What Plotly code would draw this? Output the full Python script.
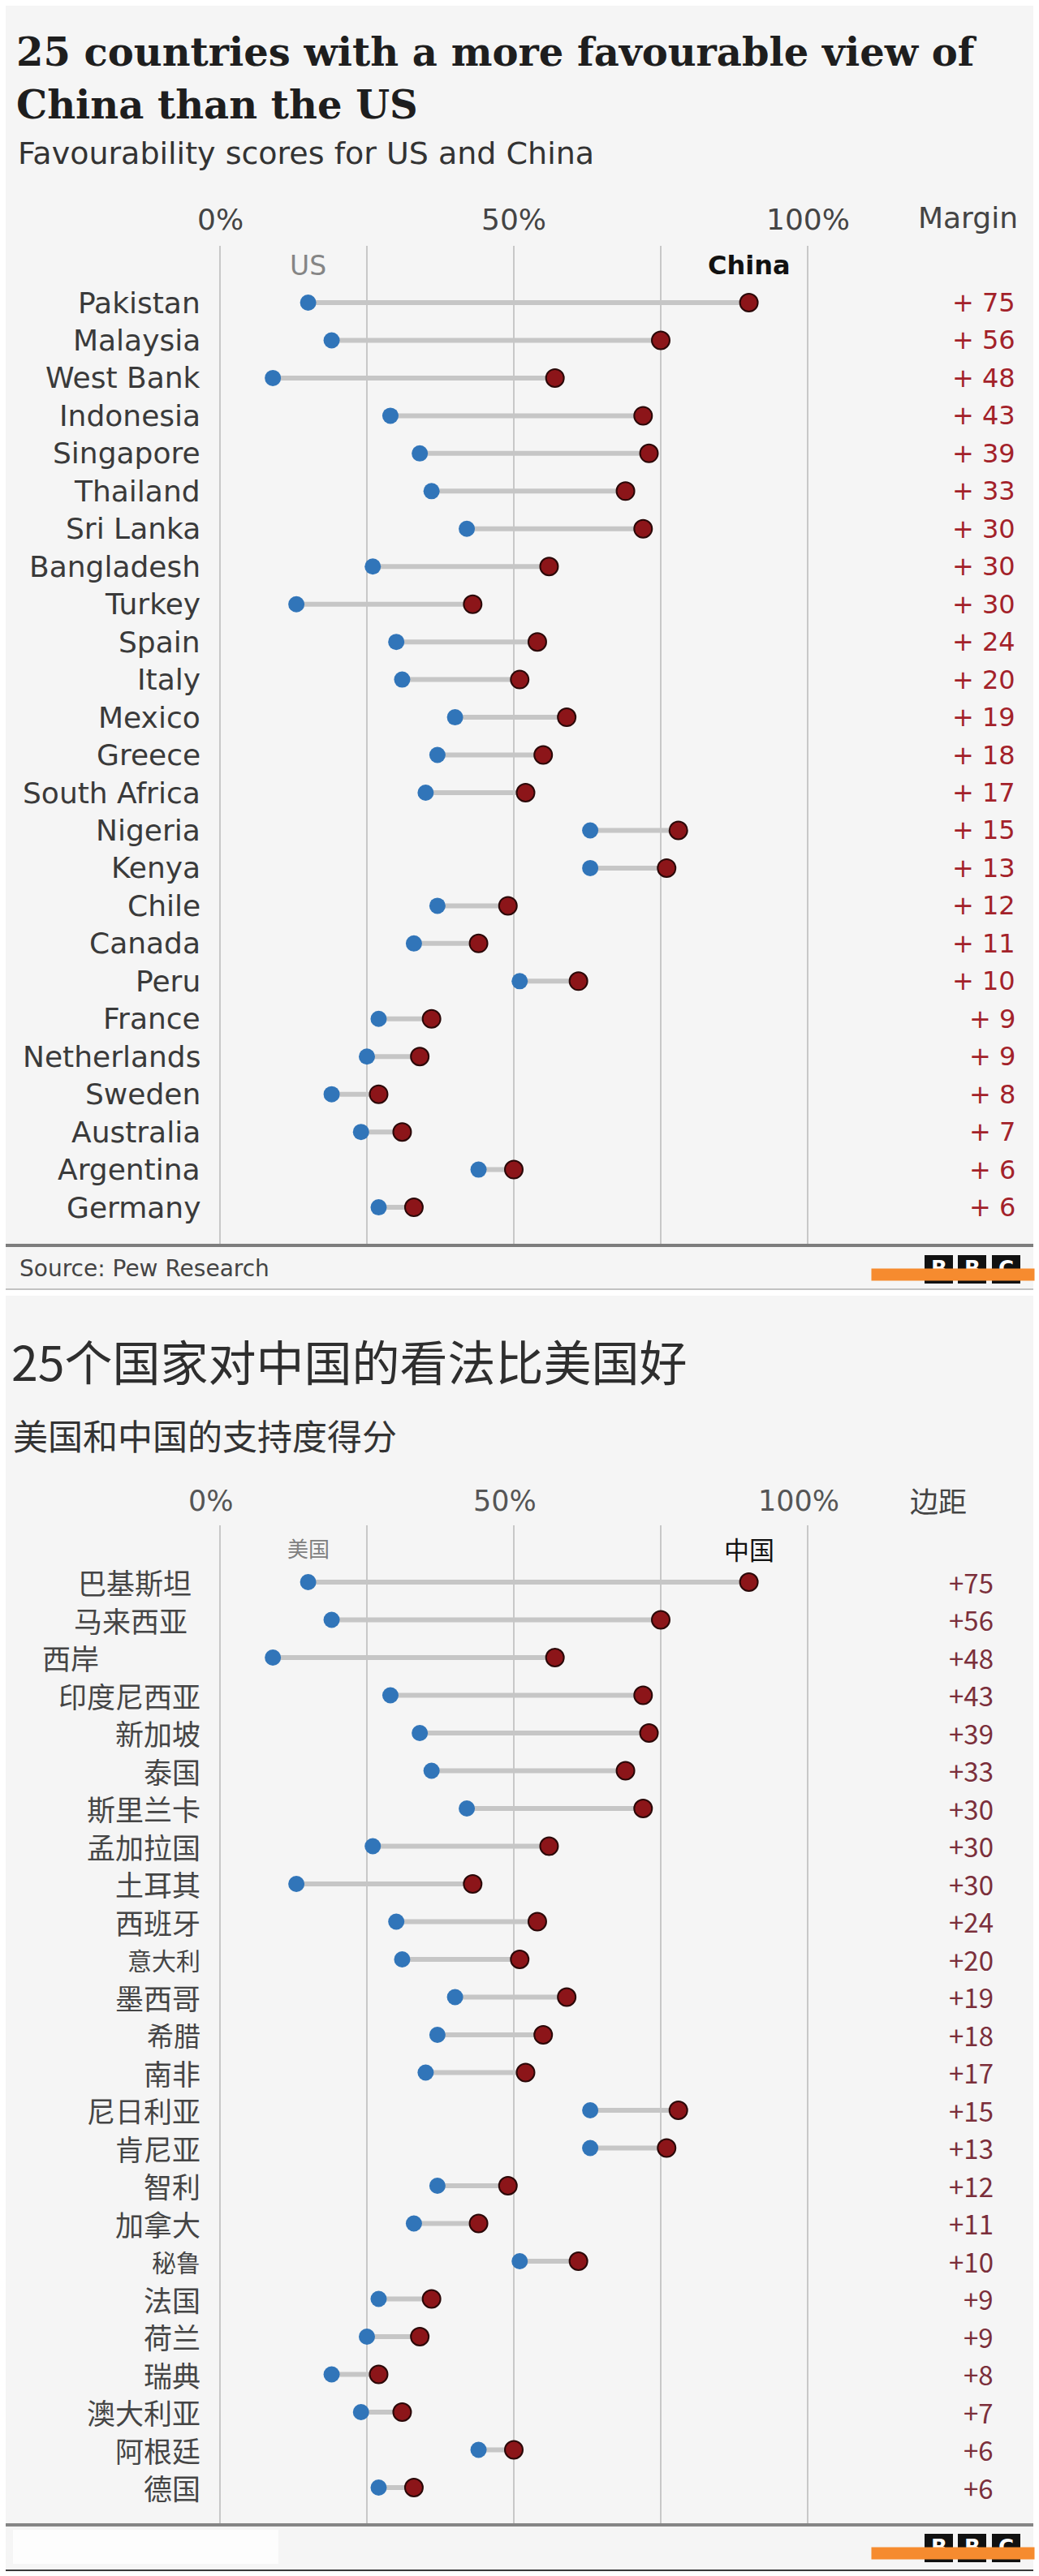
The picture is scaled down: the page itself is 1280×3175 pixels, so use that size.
import plotly.graph_objects as go

W, H = 1280, 3175

# ---------------- data ----------------
countries_en = ["Pakistan", "Malaysia", "West Bank", "Indonesia", "Singapore", "Thailand",
                "Sri Lanka", "Bangladesh", "Turkey", "Spain", "Italy", "Mexico", "Greece",
                "South Africa", "Nigeria", "Kenya", "Chile", "Canada", "Peru", "France",
                "Netherlands", "Sweden", "Australia", "Argentina", "Germany"]
countries_zh = ["巴基斯坦", "马来西亚", "西岸", "印度尼西亚", "新加坡", "泰国", "斯里兰卡",
                "孟加拉国", "土耳其", "西班牙", "意大利", "墨西哥", "希腊", "南非", "尼日利亚",
                "肯尼亚", "智利", "加拿大", "秘鲁", "法国", "荷兰", "瑞典", "澳大利亚", "阿根廷", "德国"]
us_scores = [15, 19, 9, 29, 34, 36, 42, 26, 13, 30, 31, 40, 37, 35, 63, 63, 37, 33, 51, 27, 25, 19, 24, 44, 27]
china_scores = [90, 75, 57, 72, 73, 69, 72, 56, 43, 54, 51, 59, 55, 52, 78, 76, 49, 44, 61, 36, 34, 27, 31, 50, 33]
margins = [75, 56, 48, 43, 39, 33, 30, 30, 30, 24, 20, 19, 18, 17, 15, 13, 12, 11, 10, 9, 9, 8, 7, 6, 6]
grid_vals = [0, 25, 50, 75, 100]
axis_label_vals = [0, 50, 100]
axis_labels = ["0%", "50%", "100%"]


def px(x):
    return x / W


def py(y):
    return 1 - y / H


US_BLUE = "#3175b9"
CN_RED = "#8c1519"
CN_EDGE = "#2a0808"
LINE_GREY = "#c6c6c6"

fig = go.Figure()


def add_panel(names, xa, ya):
    lx, ly = [], []
    for n, u, c in zip(names, us_scores, china_scores):
        lx += [u, c, None]
        ly += [n, n, None]
    fig.add_trace(go.Scatter(x=lx, y=ly, mode="lines", line=dict(color=LINE_GREY, width=6),
                             xaxis=xa, yaxis=ya, hoverinfo="skip", showlegend=False))
    fig.add_trace(go.Scatter(x=us_scores, y=names, mode="markers",
                             marker=dict(color=US_BLUE, size=20, line=dict(width=0)),
                             xaxis=xa, yaxis=ya, cliponaxis=False, showlegend=False))
    fig.add_trace(go.Scatter(x=china_scores, y=names, mode="markers",
                             marker=dict(color=CN_RED, size=22, line=dict(color=CN_EDGE, width=2)),
                             xaxis=xa, yaxis=ya, cliponaxis=False, showlegend=False))


add_panel(countries_en, "x", "y")
add_panel(countries_zh, "x2", "y2")

xdom = [px(271 - 14.48), px(995 + 14.48)]
xcommon = dict(domain=xdom, range=[-2, 102], tickvals=grid_vals, showticklabels=False,
               showgrid=True, gridcolor="#c8c8c8", gridwidth=1.5, zeroline=False,
               showline=False, fixedrange=True)

fig.update_layout(
    width=W, height=H,
    margin=dict(l=0, r=0, t=0, b=0),
    paper_bgcolor="#ffffff",
    plot_bgcolor="rgba(0,0,0,0)",
    xaxis=dict(**xcommon, anchor="y"),
    yaxis=dict(domain=[py(1535), py(303)], range=[25.01, -1.507], type="category",
               categoryorder="array", categoryarray=countries_en, showticklabels=False,
               showgrid=False, zeroline=False, anchor="x", fixedrange=True),
    xaxis2=dict(**xcommon, anchor="y2"),
    yaxis2=dict(domain=[py(3112), py(1880)], range=[24.99, -1.505], type="category",
                categoryorder="array", categoryarray=countries_zh, showticklabels=False,
                showgrid=False, zeroline=False, anchor="x2", fixedrange=True),
)

shapes = []
# panel backgrounds
shapes.append(dict(type="rect", xref="paper", yref="paper", x0=px(7), x1=px(1273), y0=py(1589), y1=py(7),
                   fillcolor="#f5f5f5", line=dict(width=0), layer="below"))
shapes.append(dict(type="rect", xref="paper", yref="paper", x0=px(7), x1=px(1273), y0=py(3168), y1=py(1597),
                   fillcolor="#f5f5f5", line=dict(width=0), layer="below"))
# rules
shapes.append(dict(type="line", xref="paper", yref="paper", x0=px(7), x1=px(1273), y0=py(1535), y1=py(1535),
                   line=dict(color="#7d7d7d", width=4)))
shapes.append(dict(type="line", xref="paper", yref="paper", x0=px(7), x1=px(1273), y0=py(1589), y1=py(1589),
                   line=dict(color="#c2c2c2", width=2)))
shapes.append(dict(type="line", xref="paper", yref="paper", x0=px(7), x1=px(1273), y0=py(3112), y1=py(3112),
                   line=dict(color="#858585", width=4)))
shapes.append(dict(type="line", xref="paper", yref="paper", x0=px(7), x1=px(1273), y0=py(3168), y1=py(3168),
                   line=dict(color="#3a3a3a", width=2)))
# blanked source box in lower panel
shapes.append(dict(type="rect", xref="paper", yref="paper", x0=px(16), x1=px(343), y0=py(3160), y1=py(3118),
                   fillcolor="#fdfdfd", line=dict(width=0)))
# BBC logo blocks
logo_tops = [1547, 3123]
block_x = [1139, 1180, 1222]
for top in logo_tops:
    for bx in block_x:
        shapes.append(dict(type="rect", xref="paper", yref="paper", x0=px(bx), x1=px(bx + 35),
                           y0=py(top + 35), y1=py(top), fillcolor="#111111", line=dict(width=0)))
fig.update_layout(shapes=shapes)

ann = []
SANS = "DejaVu Sans"
CJK = "Noto Sans CJK SC"


def text(x, y, s, size, color, family, xanchor="left", yanchor="middle", xref="paper", yref="paper",
         weight="normal", xshift=0):
    ann.append(dict(x=x, y=y, xref=xref, yref=yref, text=s, showarrow=False, xanchor=xanchor,
                    yanchor=yanchor, xshift=xshift,
                    font=dict(size=size, color=color, family=family, weight=weight)))


# ---- top (English) panel ----
text(px(18), py(64), "25 countries with a more favourable view of", 48, "#1e1e1e", "DejaVu Serif", weight="bold")
text(px(18), py(129), "China than the US", 48, "#1e1e1e", "DejaVu Serif", weight="bold")
text(px(20), py(189), "Favourability scores for US and China", 38, "#333333", SANS)
for v, lab in zip(axis_label_vals, axis_labels):
    text(v, py(270), lab, 36, "#444444", SANS, xanchor="center", xref="x")
text(px(1192), py(268), "Margin", 36, "#444444", SANS, xanchor="center")
text(us_scores[0], py(327), "US", 33, "#858585", SANS, xanchor="center", xref="x")
text(china_scores[0], py(327), "China", 32, "#111111", SANS, xanchor="center", xref="x", weight="bold")
for n, m in zip(countries_en, margins):
    text(px(249), n, n, 36, "#3a3a3a", SANS, xanchor="right", yref="y")
    text(px(1253), n, f"+ {m}", 32, "#a3222a", SANS, xanchor="right", yref="y")
text(px(22), py(1563), "Source: Pew Research", 28, "#444444", SANS)

# ---- bottom (Chinese) panel ----
text(px(12), py(1677), "25个国家对中国的看法比美国好", 59, "#2e2e2e", CJK)
text(px(14), py(1768), "美国和中国的支持度得分", 43, "#333333", CJK)
for v, lab in zip(axis_label_vals, axis_labels):
    text(v, py(1850), lab, 35, "#555555", SANS, xanchor="center", xref="x2", xshift=-11)
text(px(1156), py(1848), "边距", 35, "#444444", CJK, xanchor="center")
text(us_scores[0], py(1907), "美国", 26, "#808080", CJK, xanchor="center", xref="x2")
text(china_scores[0], py(1908), "中国", 31, "#111111", CJK, xanchor="center", xref="x2")

zh_label_pos = {"巴基斯坦": ("right", 238), "马来西亚": ("right", 233), "西岸": ("left", 50)}
zh_label_size = {"意大利": 30, "秘鲁": 30, "希腊": 33}
for n, m in zip(countries_zh, margins):
    anchor, xp = zh_label_pos.get(n, ("right", 249))
    text(px(xp), n, n, zh_label_size.get(n, 35), "#454545", CJK, xanchor=anchor, yref="y2")
    text(px(1226), n, f"+{m}", 33, "#7b2f3b", CJK, xanchor="right", yref="y2")

# BBC letters, then the orange strip drawn over them
for top in logo_tops:
    for bx, letter in zip(block_x, ["B", "B", "C"]):
        text(px(bx + 17.5), py(top + 17), letter, 26, "#ffffff", "DejaVu Sans", xanchor="center", weight="bold")
for top in logo_tops:
    ann.append(dict(x=px(1073), y=py(top + 16), xref="paper", yref="paper", text=" ", showarrow=False,
                    xanchor="left", yanchor="top", width=200, height=14, bgcolor="#f68b2f",
                    borderpad=0, font=dict(size=8)))

fig.update_layout(annotations=ann)
fig.write_html("out.html")
